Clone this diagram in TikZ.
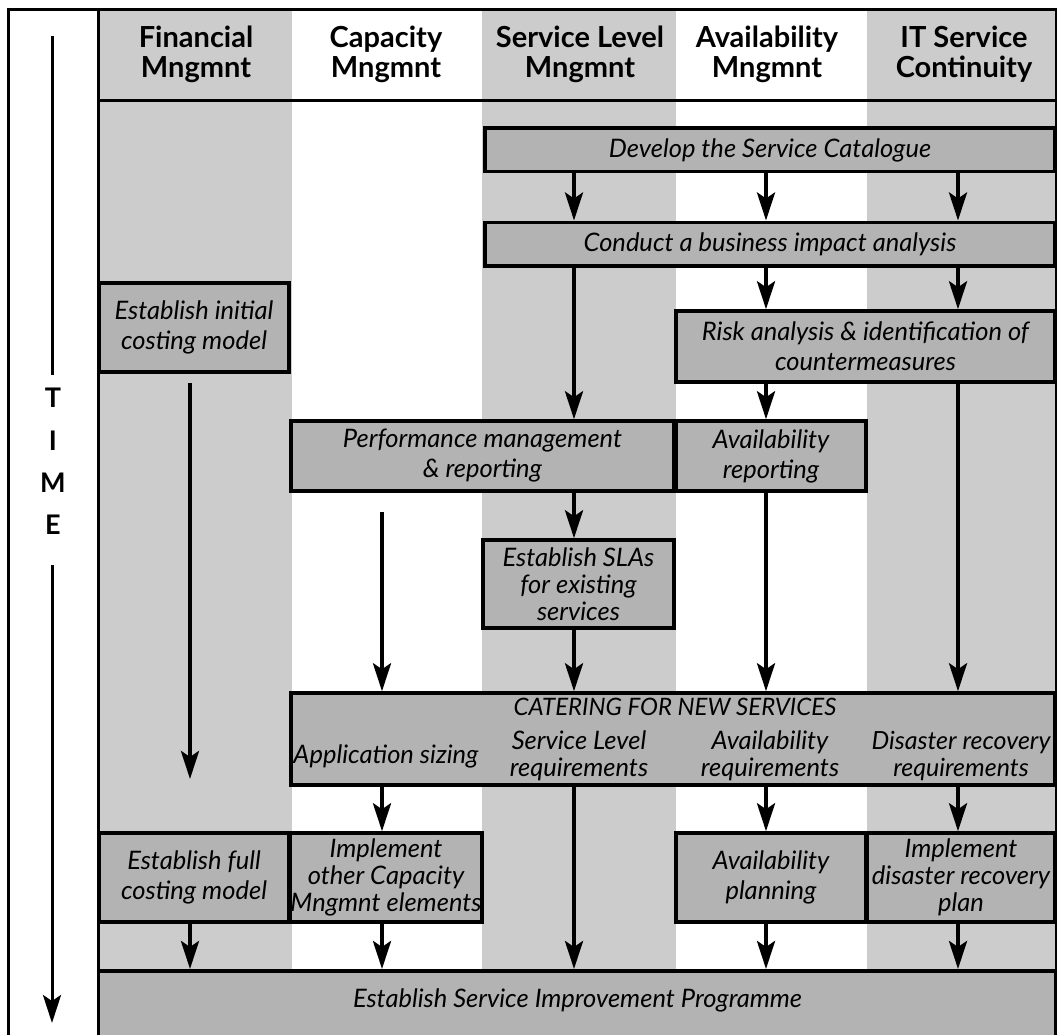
\documentclass[tikz,border=0pt]{standalone}
\usepackage{fontspec}
\setmainfont{Lato}
\usetikzlibrary{arrows.meta}
\definecolor{lane}{HTML}{CCCCCC}
\definecolor{boxfill}{HTML}{B3B3B3}

\begin{document}
\begin{tikzpicture}[x=1pt,y=-1pt,
  box/.style={draw=black, line width=3.5pt, fill=boxfill, align=center, inner sep=0.5pt,
    font=\fontsize{25.5}{30}\selectfont\itshape},
  tight/.style={font=\fontsize{25.5}{27}\selectfont\itshape},
  head/.style={align=center, inner sep=0pt, font=\fontsize{29}{30}\selectfont\bfseries},
  timel/.style={inner sep=0pt, font=\fontsize{27}{27}\selectfont\bfseries},
  lbl/.style={align=center, inner sep=0pt, font=\fontsize{25.5}{27}\selectfont\itshape},
  tip/.style={-{Stealth[length=28pt,width=18pt,inset=6pt]}},
  arr/.style={line width=4pt, tip},
  frame/.style={line width=3pt}
]
\useasboundingbox (0,0) rectangle (1057,1035);
\clip (0,0) rectangle (1057,1035);

% swim lanes
\fill[white] (0,0) rectangle (1057,1035);
\fill[lane] (98.5,10) rectangle (291.5,1045);
\fill[lane] (482,10) rectangle (676,1045);
\fill[lane] (867,10) rectangle (1056,1045);

% outer frame, time column and header rule
\draw[frame] (8.5,1045) -- (8.5,10) -- (1056,10) -- (1056,1045);
\draw[frame] (98.5,10) -- (98.5,1045);
\draw[frame] (98.5,100.5) -- (1056,100.5);

% column headings
\node[head] (hfin) at (196,54)   {Financial\\Mngmnt};
\node[head] (hcap) at (386,54)   {Capacity\\Mngmnt};
\node[head] (hsl)  at (580,54)   {Service Level\\Mngmnt};
\node[head] (hav)  at (767,54)   {Availability\\Mngmnt};
\node[head] (hit)  at (964,54)   {IT Service\\Continuity};

% time axis
\node[timel] (tT) at (53,398) {T};
\node[timel] (tI) at (53,441) {I};
\node[timel] (tM) at (53,483) {M};
\node[timel] (tE) at (53,525) {E};
\coordinate (t0) at (52,36);
\coordinate (t1) at (52,375);
\coordinate (t2) at (52,565);
\coordinate (t3) at (52,1023);
\draw[line width=3pt] (t0) -- (t1);
\draw[line width=3pt, tip] (t2) -- (t3);

% lane axes for the connectors
\coordinate (cF) at (190,0);
\coordinate (cC) at (382,0);
\coordinate (cS) at (574,0);
\coordinate (cA) at (766,0);
\coordinate (cI) at (958,0);

% process boxes
\node[box, minimum width=570, minimum height=43.5] (dev) at (770,150) {Develop the Service Catalogue};
\node[box, minimum width=570, minimum height=43.5] (bia) at (770,244) {Conduct a business impact analysis};
\node[box, minimum width=190, minimum height=89] (initcost) at (194,327.5) {Establish initial\\costing model};
\node[box, minimum width=379, minimum height=71] (risk) at (865.5,346.5) {Risk analysis \& identification of\\countermeasures};
\node[box, minimum width=383, minimum height=70] (perf) at (482.5,456) {Performance management\\\& reporting};
\node[box, minimum width=190, minimum height=70] (availrep) at (771,456) {Availability\\reporting};
\node[box, tight, minimum width=191, minimum height=88] (slas) at (578.5,584) {Establish SLAs\\for existing\\services};
\node[box, minimum width=764, minimum height=92] (cater) at (673,739) {};
\node[box, minimum width=190, minimum height=89] (fullcost) at (194,877.5) {Establish full\\costing model};
\node[box, tight, minimum width=190, minimum height=89] (implcap) at (386,877.5) {Implement\\other Capacity\\Mngmnt elements};
\node[box, minimum width=190, minimum height=89] (availplan) at (771,877.5) {Availability\\planning};
\node[box, tight, minimum width=188, minimum height=89] (impldr) at (961,877.5) {Implement\\disaster recovery\\plan};
\node[box, minimum width=957.5, minimum height=80, anchor=north] (final) at (577.25,969) {};

% texts inside the new-services and final boxes
\node[lbl, font=\fontsize{24}{27}\selectfont\itshape] (catT) at (675,707) {CATERING FOR NEW SERVICES};
\node[lbl] (catA) at (386,756) {Application sizing};
\node[lbl] (catS) at (579,756) {Service Level\\requirements};
\node[lbl] (catV) at (770,756) {Availability\\requirements};
\node[lbl, font=\fontsize{25}{27}\selectfont\itshape] (catD) at (961,756) {Disaster recovery\\requirements};
\node[lbl] (finT) at (577.5,1000) {Establish Service Improvement Programme};

% free-standing arrow ends
\coordinate (fA) at (190,383);
\coordinate (fB) at (190,779);
\coordinate (cA0) at (382,512);

% connectors
\draw[arr] (dev.south -| cS) -- (bia.north -| cS);
\draw[arr] (dev.south -| cA) -- (bia.north -| cA);
\draw[arr] (dev.south -| cI) -- (bia.north -| cI);
\draw[arr] (bia.south -| cS) -- (perf.north -| cS);
\draw[arr] (bia.south -| cA) -- (risk.north -| cA);
\draw[arr] (bia.south -| cI) -- (risk.north -| cI);
\draw[arr] (risk.south -| cA) -- (availrep.north -| cA);
\draw[arr] (risk.south -| cI) -- (cater.north -| cI);
\draw[arr] (fA) -- (fB);
\draw[arr] (perf.south -| cS) -- (slas.north -| cS);
\draw[arr] (cA0) -- (cater.north -| cC);
\draw[arr] (slas.south -| cS) -- (cater.north -| cS);
\draw[arr] (availrep.south -| cA) -- (cater.north -| cA);
\draw[arr] (cater.south -| cC) -- (implcap.north -| cC);
\draw[arr] (cater.south -| cS) -- (final.north -| cS);
\draw[arr] (cater.south -| cA) -- (availplan.north -| cA);
\draw[arr] (cater.south -| cI) -- (impldr.north -| cI);
\draw[arr] (fullcost.south -| cF) -- (final.north -| cF);
\draw[arr] (implcap.south -| cC) -- (final.north -| cC);
\draw[arr] (availplan.south -| cA) -- (final.north -| cA);
\draw[arr] (impldr.south -| cI) -- (final.north -| cI);
\end{tikzpicture}
\end{document}
